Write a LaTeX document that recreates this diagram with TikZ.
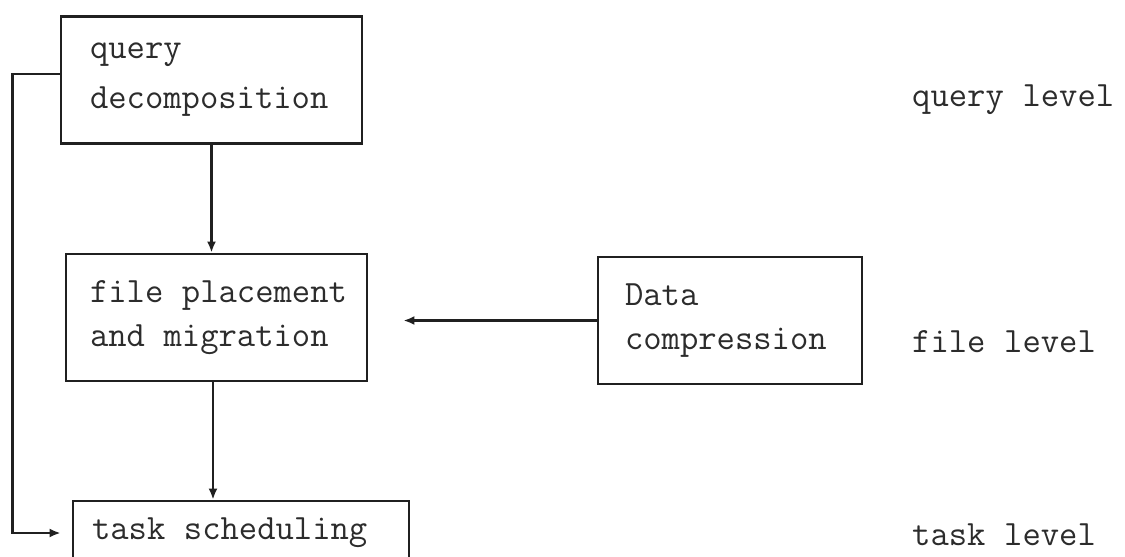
\documentclass[tikz,border=0pt]{standalone}
\usetikzlibrary{arrows.meta,calc}
\definecolor{ink}{HTML}{202020}
\definecolor{type}{HTML}{2c2c2c}
\newcommand\tsp{\hspace*{0.525em}}
\begin{document}
\begin{tikzpicture}[x=1pt,y=-1pt,
  box/.style={draw=ink, line width=2.8pt, align=left, inner ysep=0pt, minimum height=127pt,
              text=type, font=\ttfamily\fontsize{35.6}{44}\selectfont},
  lvl/.style={anchor=base west, text=type, inner sep=0pt, font=\ttfamily\fontsize{35.6}{44}\selectfont},
  arr/.style={draw=ink, line width=2.8pt, -{Latex[length=11pt,width=9pt]}}]
\useasboundingbox (0,0) rectangle (1125,557);
\clip (0,0) rectangle (1125,557);
\fill[white] (0,0) rectangle (1125,557);

\node[box, inner xsep=29pt, text width=243pt, font=\ttfamily\fontsize{35.6}{50}\selectfont] (q) at (211.5,80) {query\\decomposition};
\node[box, inner xsep=24pt, text width=253pt] (f) at (216.5,317.5) {file\tsp placement\\and\tsp migration};
\node[box, inner xsep=27pt, text width=210pt] (d) at (730,320.5) {Data\\compression};
\node[box, inner xsep=19pt, text width=298pt, minimum height=64pt] (t) at (241,533) {task\tsp scheduling};

\node[lvl] (lq) at (912,106) {query\tsp level};
\node[lvl] (lf) at (912,352) {file\tsp level};
\node[lvl] (lt) at (912,545) {task\tsp level};

\coordinate (fs) at ([xshift=-3.5pt]f.south);
\coordinate (fe) at ([xshift=35pt]f.east);
\draw[arr] (q.south) -- (q.south |- f.north);
\draw[arr] (fs) -- (fs |- t.north);
\draw[arr] (d.west) -- (fe |- d.west);
\draw[arr, shorten >=11pt] ([yshift=6pt]q.west) -- ++(-47,0) |- (t.west);
\end{tikzpicture}
\end{document}
